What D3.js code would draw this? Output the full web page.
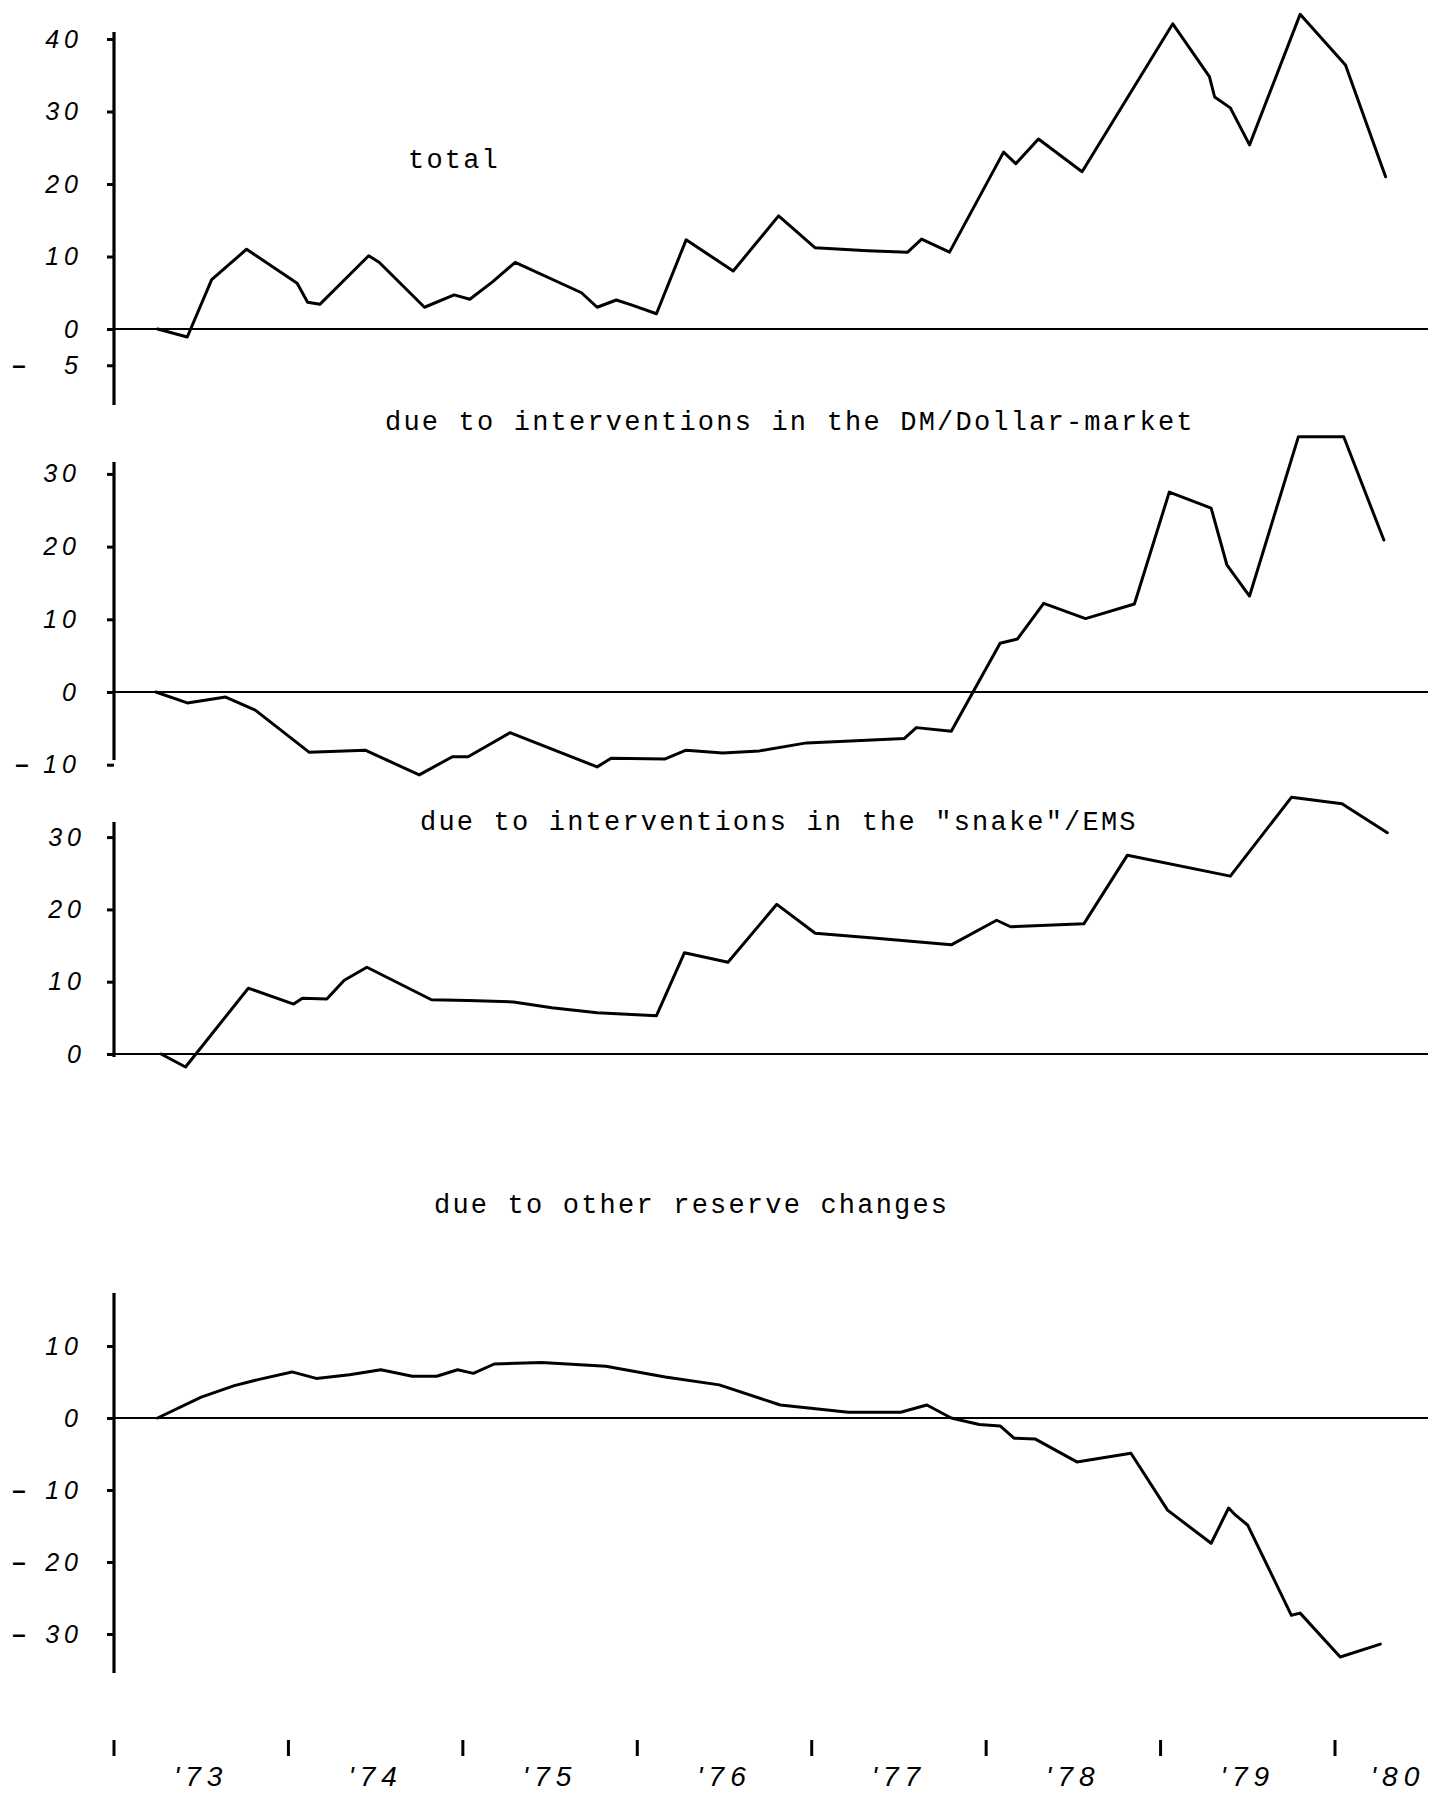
<!DOCTYPE html>
<html>
<head>
<meta charset="utf-8">
<script src="https://cdn.jsdelivr.net/npm/d3@7/dist/d3.min.js"></script>
<style>
  html, body { margin: 0; padding: 0; background: #fff; }
  svg { display: block; }
</style>
</head>
<body>
<svg id="chart" width="1430" height="1799"></svg>
<script>
// ---------------- DATA ----------------
const years = [1973, 1974, 1975, 1976, 1977, 1978, 1979, 1980];
const yearLabels = ["'73", "'74", "'75", "'76", "'77", "'78", "'79", "'80"];

const titles = [
  "total",
  "due to interventions in the DM/Dollar-market",
  "due to interventions in the \"snake\"/EMS",
  "due to other reserve changes"
];

const totalTicks = [40, 30, 20, 10, 0, -5];
const dmTicks = [30, 20, 10, 0, -10];
const snakeTicks = [30, 20, 10, 0];
const otherTicks = [10, 0, -10, -20, -30];

const totalDates = [1973.25, 1973.42, 1973.56, 1973.76, 1974.05, 1974.11, 1974.18, 1974.46, 1974.52,
  1974.78, 1974.95, 1975.04, 1975.17, 1975.30, 1975.68, 1975.77, 1975.88, 1975.97, 1976.11,
  1976.28, 1976.55, 1976.81, 1977.02, 1977.32, 1977.55, 1977.63, 1977.79, 1978.10, 1978.17,
  1978.30, 1978.55, 1979.07, 1979.28, 1979.31, 1979.40, 1979.51, 1979.80, 1980.06, 1980.29];
const totalValues = [0, -1.1, 6.8, 11.0, 6.3, 3.7, 3.4, 10.1, 9.2,
  3.0, 4.7, 4.1, 6.5, 9.2, 5.0, 3.0, 4.0, 3.3, 2.1,
  12.3, 8.0, 15.6, 11.2, 10.8, 10.6, 12.4, 10.6, 24.4, 22.8,
  26.2, 21.7, 42.1, 34.8, 32.0, 30.5, 25.4, 43.4, 36.4, 21.0];

const dmDates = [1973.24, 1973.42, 1973.64, 1973.81, 1974.12, 1974.44, 1974.75, 1974.94, 1975.03,
  1975.27, 1975.77, 1975.85, 1976.16, 1976.28, 1976.49, 1976.70, 1976.97, 1977.16, 1977.53,
  1977.60, 1977.80, 1978.08, 1978.18, 1978.33, 1978.57, 1978.85, 1979.05, 1979.29, 1979.38,
  1979.51, 1979.79, 1980.05, 1980.28];
const dmValues = [0, -1.5, -0.7, -2.5, -8.3, -8.0, -11.4, -8.9, -8.9,
  -5.6, -10.3, -9.1, -9.2, -8.0, -8.4, -8.1, -7.0, -6.8, -6.4,
  -4.9, -5.4, 6.7, 7.3, 12.2, 10.1, 12.1, 27.5, 25.3, 17.5,
  13.2, 35.1, 35.1, 20.9];

const snakeDates = [1973.27, 1973.41, 1973.77, 1974.03, 1974.08, 1974.22, 1974.32, 1974.45, 1974.82,
  1975.03, 1975.29, 1975.51, 1975.77, 1976.11, 1976.27, 1976.52, 1976.80, 1977.02, 1977.37,
  1977.80, 1978.06, 1978.14, 1978.56, 1978.81, 1979.40, 1979.75, 1980.04, 1980.30];
const snakeValues = [0, -1.8, 9.1, 6.9, 7.7, 7.6, 10.2, 12.0, 7.5,
  7.4, 7.2, 6.4, 5.7, 5.3, 14.0, 12.7, 20.7, 16.7, 16.0,
  15.1, 18.5, 17.6, 18.0, 27.5, 24.6, 35.5, 34.6, 30.6];

const otherDates = [1973.25, 1973.50, 1973.69, 1973.82, 1974.02, 1974.16, 1974.35, 1974.53, 1974.71,
  1974.85, 1974.97, 1975.06, 1975.18, 1975.45, 1975.82, 1976.16, 1976.47, 1976.82, 1977.21,
  1977.51, 1977.66, 1977.80, 1977.96, 1978.08, 1978.16, 1978.28, 1978.52, 1978.83, 1979.04,
  1979.29, 1979.39, 1979.43, 1979.50, 1979.75, 1979.80, 1980.03, 1980.26];
const otherValues = [0, 2.9, 4.5, 5.3, 6.4, 5.5, 6.0, 6.7, 5.8,
  5.8, 6.7, 6.2, 7.5, 7.7, 7.2, 5.7, 4.6, 1.8, 0.8,
  0.8, 1.8, 0, -0.9, -1.1, -2.8, -2.9, -6.1, -4.9, -12.8,
  -17.4, -12.5, -13.5, -14.9, -27.4, -27.1, -33.2, -31.4];

// ---------------- LAYOUT ----------------
const svg = d3.select("#chart");
svg.append("rect").attr("width", 1430).attr("height", 1799).attr("fill", "#fff");

const x = d3.scaleLinear().domain([1973, 1980]).range([114, 1335]);
const axisX = 114, lineEnd = 1428;

const panels = [
  { title: titles[0], dates: totalDates, values: totalValues, ticks: totalTicks,
    zero: 329, unit: 7.25, top: 32, bottom: 405, tx: 408, ty: 168, labelEnd: 79, dashX: 19 },
  { title: titles[1], dates: dmDates, values: dmValues, ticks: dmTicks,
    zero: 692, unit: 7.27, top: 462, bottom: 760, tx: 385, ty: 430, labelEnd: 77, dashX: 22 },
  { title: titles[2], dates: snakeDates, values: snakeValues, ticks: snakeTicks,
    zero: 1054, unit: 7.23, top: 822, bottom: 1057, tx: 420, ty: 830, labelEnd: 82, dashX: 22 },
  { title: titles[3], dates: otherDates, values: otherValues, ticks: otherTicks,
    zero: 1418, unit: 7.2, top: 1293, bottom: 1673, tx: 434, ty: 1213, labelEnd: 79, dashX: 19 }
];

const tickFont = "'Liberation Sans Narrow', 'Liberation Sans', Arial, sans-serif";
const titleFont = "'Liberation Mono', 'Courier New', monospace";

panels.forEach(p => {
  const y = d3.scaleLinear().domain([0, 10]).range([p.zero, p.zero - p.unit * 10]);
  const g = svg.append("g");

  // vertical axis line
  g.append("line")
    .attr("x1", axisX).attr("x2", axisX)
    .attr("y1", p.top).attr("y2", p.bottom)
    .attr("stroke", "#000").attr("stroke-width", 3.2);

  // zero line
  g.append("line")
    .attr("x1", axisX).attr("x2", lineEnd)
    .attr("y1", y(0)).attr("y2", y(0))
    .attr("stroke", "#000").attr("stroke-width", 2.2);

  // ticks + labels
  const ax = d3.axisLeft(y)
    .tickValues(p.ticks)
    .tickSize(7)
    .tickPadding(axisX - 7 - p.labelEnd - 4)
    .tickFormat(d => String(Math.abs(d)));
  const ag = g.append("g").attr("transform", `translate(${axisX},0)`).call(ax);
  ag.select(".domain").remove();
  ag.selectAll(".tick line").attr("stroke", "#000").attr("stroke-width", 3);
  ag.selectAll(".tick text")
    .attr("fill", "#000")
    .style("font-family", tickFont)
    .style("font-style", "italic")
    .style("font-size", "25px")
    .style("letter-spacing", "5px");

  // minus signs for negative tick labels
  g.selectAll(".minus")
    .data(p.ticks.filter(d => d < 0))
    .enter().append("text")
    .attr("x", p.dashX).attr("y", d => y(d))
    .attr("dy", "0.32em")
    .attr("text-anchor", "middle")
    .style("font-family", "'Liberation Sans', Arial, sans-serif")
    .style("font-size", "24px")
    .style("font-weight", "bold")
    .text("\u2013");

  // data line
  const pts = p.dates.map((d, i) => [d, p.values[i]]);
  const line = d3.line().x(d => x(d[0])).y(d => y(d[1]));
  g.append("path")
    .attr("d", line(pts))
    .attr("fill", "none")
    .attr("stroke", "#000")
    .attr("stroke-width", 3)
    .attr("stroke-linejoin", "round")
    .attr("stroke-linecap", "round");

  // title
  g.append("text")
    .attr("x", p.tx).attr("y", p.ty)
    .style("font-family", titleFont)
    .style("font-size", "27px")
    .style("letter-spacing", "2.2px")
    .attr("fill", "#000")
    .text(p.title);
});

// ---------------- BOTTOM TIME AXIS ----------------
const bx = svg.append("g");
bx.selectAll(".ytick")
  .data(years)
  .enter().append("line")
  .attr("x1", d => x(d)).attr("x2", d => x(d))
  .attr("y1", 1740).attr("y2", 1756)
  .attr("stroke", "#000").attr("stroke-width", 3);

bx.selectAll(".ylab")
  .data(years)
  .enter().append("text")
  .attr("x", d => Math.min(x(d + 0.5), 1398))
  .attr("y", 1786)
  .attr("text-anchor", "middle")
  .style("font-family", tickFont)
  .style("font-style", "italic")
  .style("font-size", "28px")
  .style("letter-spacing", "6px")
  .attr("fill", "#000")
  .text((d, i) => yearLabels[i]);
</script>
</body>
</html>
